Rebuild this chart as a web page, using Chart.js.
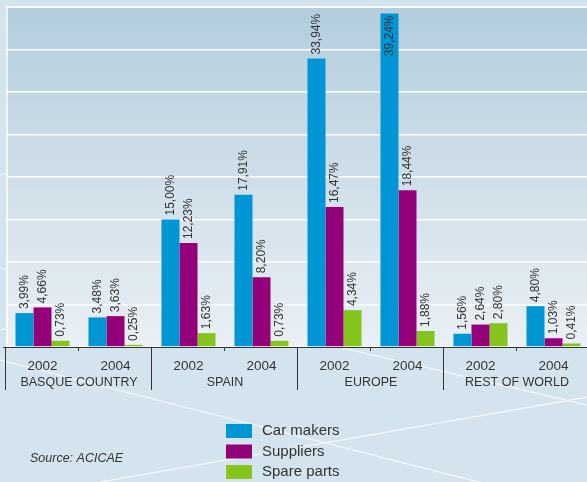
<!DOCTYPE html>
<html>
<head>
<meta charset="utf-8">
<style>
  html, body { margin: 0; padding: 0; overflow: hidden; background: #d4e4ee; }
  #wrap { width: 596px; height: 482px; }
</style>
<script src="https://cdn.jsdelivr.net/npm/chart.js@4"></script>
</head>
<body>
<div id="wrap"><canvas id="chartExports" width="596" height="482"></canvas></div>
<script>
// values (% of sales)
const years = ['2002', '2004', '2002', '2004', '2002', '2004', '2002', '2004'];
const regions = ['BASQUE COUNTRY', 'SPAIN', 'EUROPE', 'REST OF WORLD'];
const carMakers = [3.99, 3.48, 15.00, 17.91, 33.94, 39.24, 1.56, 4.80];
const suppliers = [4.66, 3.63, 12.23, 8.20, 16.47, 18.44, 2.64, 1.03];
const spareParts = [0.73, 0.25, 1.63, 0.73, 4.34, 1.88, 2.80, 0.41];
const yTicks = [0, 5, 10, 15, 20, 25, 30, 35, 40];

const FONT = "'Liberation Sans', Arial, sans-serif";
const INK = '#333333';

const pct = v => v.toFixed(2).replace('.', ',') + '%';

// background, plot gradient and the faint decorative lines
const backdrop = {
  id: 'backdrop',
  beforeDraw(chart) {
    const { ctx, chartArea: a, width, height } = chart;
    ctx.save();
    ctx.fillStyle = '#d4e4ee';
    ctx.fillRect(0, 0, width, height);
    ctx.strokeStyle = 'rgba(255,255,255,0.8)';
    ctx.lineWidth = 1.2;
    [[0, 268, 600, 408], [0, 360, 600, 513], [100, 482, 600, 395],
     [0, 175, 600, 60], [0, 330, 600, 180]].forEach(l => {
      ctx.beginPath();
      ctx.moveTo(l[0], l[1]);
      ctx.lineTo(l[2], l[3]);
      ctx.stroke();
    });
    const g = ctx.createLinearGradient(0, a.top, 0, a.bottom);
    g.addColorStop(0, '#b3cddd');
    g.addColorStop(1, '#eaf0f5');
    ctx.fillStyle = g;
    ctx.fillRect(a.left, a.top, a.right - a.left, a.bottom - a.top);
    ctx.restore();
  },
  beforeDatasetsDraw(chart) {
    const { ctx, chartArea: a } = chart;
    ctx.save();
    ctx.strokeStyle = '#ffffff';
    ctx.lineWidth = 1.5;
    ctx.beginPath();
    ctx.moveTo(a.left + 1, a.bottom);
    ctx.lineTo(a.left + 1, a.top);
    ctx.lineTo(a.right, a.top);
    ctx.stroke();
    ctx.restore();
  }
};

// rotated value labels above each bar
const valueLabels = {
  id: 'valueLabels',
  afterDatasetsDraw(chart) {
    const { ctx, chartArea: a } = chart;
    ctx.save();
    ctx.font = '12px ' + FONT;
    ctx.fillStyle = INK;
    ctx.textBaseline = 'middle';
    chart.data.datasets.forEach((ds, di) => {
      chart.getDatasetMeta(di).data.forEach((bar, i) => {
        const txt = pct(ds.data[i]);
        const w = ctx.measureText(txt).width;
        ctx.save();
        ctx.translate(bar.x, bar.y);
        ctx.rotate(-Math.PI / 2);
        if (bar.y - 4 - w < a.top - 1) {
          ctx.textAlign = 'right';
          ctx.fillText(txt, -2, 0);
        } else {
          ctx.textAlign = 'left';
          ctx.fillText(txt, 4, 0);
        }
        ctx.restore();
      });
    });
    ctx.restore();
  }
};

// x axis: baseline, year ticks, region groups, legend and source
const axisAndLegend = {
  id: 'axisAndLegend',
  afterDraw(chart) {
    const { ctx, chartArea: a } = chart;
    const x = chart.scales.x;
    const slot = x.getPixelForValue(1) - x.getPixelForValue(0);
    ctx.save();
    ctx.strokeStyle = INK;
    ctx.lineWidth = 1;
    ctx.beginPath();
    ctx.moveTo(a.left - 3, a.bottom + 0.5);
    ctx.lineTo(chart.width, a.bottom + 0.5);
    ctx.stroke();

    ctx.fillStyle = INK;
    ctx.textAlign = 'center';
    ctx.textBaseline = 'middle';
    ctx.font = '13.5px ' + FONT;
    years.forEach((y, i) => {
      const px = x.getPixelForValue(i);
      ctx.fillText(y, px, a.bottom + 19);
      const edge = Math.round(px - slot / 2) - 0.5;
      ctx.beginPath();
      if (i % 2 === 0) {
        ctx.moveTo(edge, a.bottom);
        ctx.lineTo(edge, a.bottom + 43);
      } else {
        ctx.moveTo(edge, a.bottom);
        ctx.lineTo(edge, a.bottom + 4);
      }
      ctx.stroke();
    });
    ctx.font = '12.5px ' + FONT;
    regions.forEach((r, g) => {
      const px = (x.getPixelForValue(g * 2) + x.getPixelForValue(g * 2 + 1)) / 2;
      ctx.fillText(r, px, a.bottom + 36);
    });

    // legend
    ctx.textAlign = 'left';
    ctx.font = '15px ' + FONT;
    chart.data.datasets.forEach((ds, i) => {
      const top = 424 + i * 20.5;
      ctx.fillStyle = ds.backgroundColor;
      ctx.fillRect(226, top, 26, 14);
      ctx.fillStyle = INK;
      ctx.fillText(ds.label, 262, top + 7);
    });

    ctx.font = 'italic 12.5px ' + FONT;
    ctx.fillText('Source: ACICAE', 30, 459);
    ctx.restore();
  }
};

new Chart(document.getElementById('chartExports').getContext('2d'), {
  type: 'bar',
  data: {
    labels: years,
    datasets: [
      { label: 'Car makers', data: carMakers, backgroundColor: '#0096d6' },
      { label: 'Suppliers', data: suppliers, backgroundColor: '#93007a' },
      { label: 'Spare parts', data: spareParts, backgroundColor: '#84c41c' }
    ]
  },
  options: {
    responsive: false,
    animation: false,
    events: [],
    layout: { padding: { left: 6, right: 6, top: 7, bottom: 135 } },
    datasets: { bar: { categoryPercentage: 0.74, barPercentage: 1.0 } },
    plugins: { legend: { display: false }, tooltip: { enabled: false } },
    scales: {
      x: { display: false },
      y: {
        min: yTicks[0],
        max: yTicks[yTicks.length - 1],
        afterBuildTicks: s => { s.ticks = yTicks.map(v => ({ value: v })); },
        ticks: { display: false },
        border: { display: false },
        grid: { color: '#ffffff', lineWidth: 1.5, drawTicks: false }
      }
    }
  },
  plugins: [backdrop, valueLabels, axisAndLegend]
});
</script>
</body>
</html>
